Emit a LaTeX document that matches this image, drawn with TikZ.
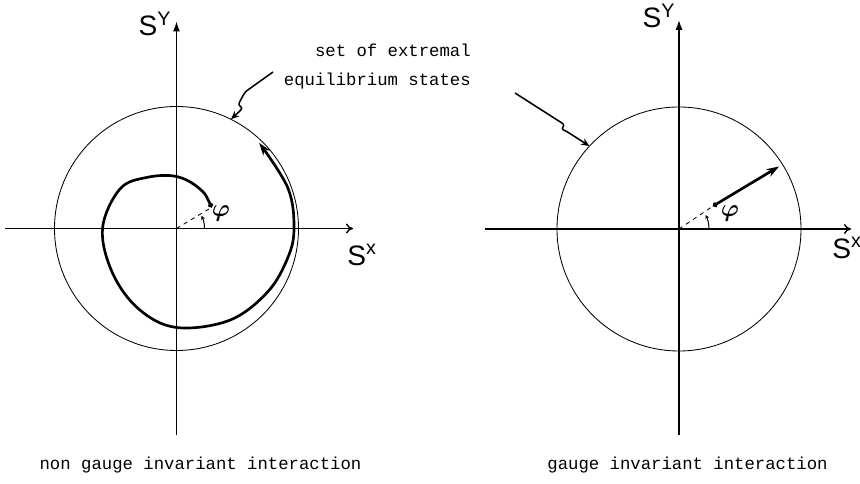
\documentclass[tikz,border=0pt]{standalone}
\usepackage{amsmath}
\usepackage{fontspec}
\setmonofont{Liberation Mono}
\setsansfont{Liberation Sans}
\usepackage{tikz}
\usetikzlibrary{arrows.meta,positioning,calc}
\tikzset{
  % Axes
  axX/.style={line width=1pt,-{To[length=5pt,width=7pt]}},
  axY/.style={line width=1pt,-{Latex[length=7pt,width=5pt]}},
  % Set of extremal states
  bound/.style={line width=0.6pt},
  % Spin path
  spin/.style={line width=1.9pt,line cap=round,{Circle[length=3.5pt]}-{Stealth[length=9pt,width=6pt]}},
  % Pointer arrow
  ptr/.style={line width=1.1pt,line join=round,rounded corners=2pt,-{Stealth[length=6pt,width=5pt]}},
  % Angle marks
  angl/.style={dashed,line width=0.6pt},
  angarr/.style={line width=0.7pt,-{Stealth[length=3pt,width=3pt]}},
  % Label styles
  lbl/.style={font=\fontsize{20}{24}\selectfont\sffamily,inner sep=0pt},
  phi/.style={font=\fontsize{17}{20}\selectfont,inner sep=0pt},
  txt/.style={font=\fontsize{12.3}{20.6}\selectfont\ttfamily,inner sep=0pt}
}
\begin{document}
\begin{tikzpicture}[x=0.025cm,y=0.025cm]
  \useasboundingbox (0,0) rectangle (860,484);
  \coordinate (O1) at (176.5,255.5);
  \coordinate (O2) at (679,255);

  % left: non gauge invariant
  \draw[bound] (O1) circle[radius=122];
  \draw[axX] ($(O1)+(-171.5,0)$) -- ($(O1)+(176.5,0)$);
  \draw[axY] ($(O1)+(0,-206.5)$) -- ($(O1)+(0,207)$);
  \node[lbl] (sy1) at (155,460) {S\textsuperscript{Y}};
  \node[lbl] (sx1) at (362,229) {S\textsuperscript{x}};
  \draw[angl] (O1) -- ($(O1)+(31:41)$);
  \draw[angarr] ($(O1)+(28,0)$) arc[start angle=0,end angle=27,radius=28];
  \node[phi] (phi1) at (221,271) {$\boldsymbol{\varphi}$};
  \begin{scope}[shift={(O1)}]
    \draw[spin] plot[smooth,tension=0.6] coordinates {(31:41) (60:46) (90:52)
      (120:59) (145:69) (180:74) (215:78) (245:89) (270:99) (300:106)
      (325:111) (345:115) (360:117.5) (20:118.5) (46:119)};
  \end{scope}
  \node[txt,align=right,anchor=east] (ext) at (471,417) {set of extremal\\equilibrium states};
  \coordinate (p1) at (273,412);
  \coordinate (t1) at ($(O1)+(63.5:122)$);
  \draw[ptr] (p1) -- (245,392) -- (238,379) -- (243,376) -- (t1);
  \node[txt] (cap1) at (200.5,19) {non gauge invariant interaction};

  % right: gauge invariant
  \draw[bound] (O2) circle[radius=122];
  \draw[axX] ($(O2)+(-194,0)$) -- ($(O2)+(172,0)$);
  \draw[axY] ($(O2)+(0,-206)$) -- ($(O2)+(0,209)$);
  \node[lbl] (sy2) at (659,468) {S\textsuperscript{Y}};
  \node[lbl] (sx2) at (847,236) {S\textsuperscript{x}};
  \draw[angl] (O2) -- ($(O2)+(34:41)$);
  \draw[angarr] ($(O2)+(30,0)$) arc[start angle=0,end angle=28,radius=30];
  \node[phi] (phi2) at (730,271) {$\boldsymbol{\varphi}$};
  \draw[spin] ($(O2)+(34:41)$) -- ($(O2)+(32:118)$);
  \coordinate (p2) at (515,391);
  \coordinate (t2) at ($(O2)+(137.2:122)$);
  \draw[ptr] (p2) -- (565,359) -- (561,355) -- (566,353) -- (t2);
  \node[txt] (cap2) at (687.5,19) {gauge invariant interaction};
\end{tikzpicture}
\end{document}
